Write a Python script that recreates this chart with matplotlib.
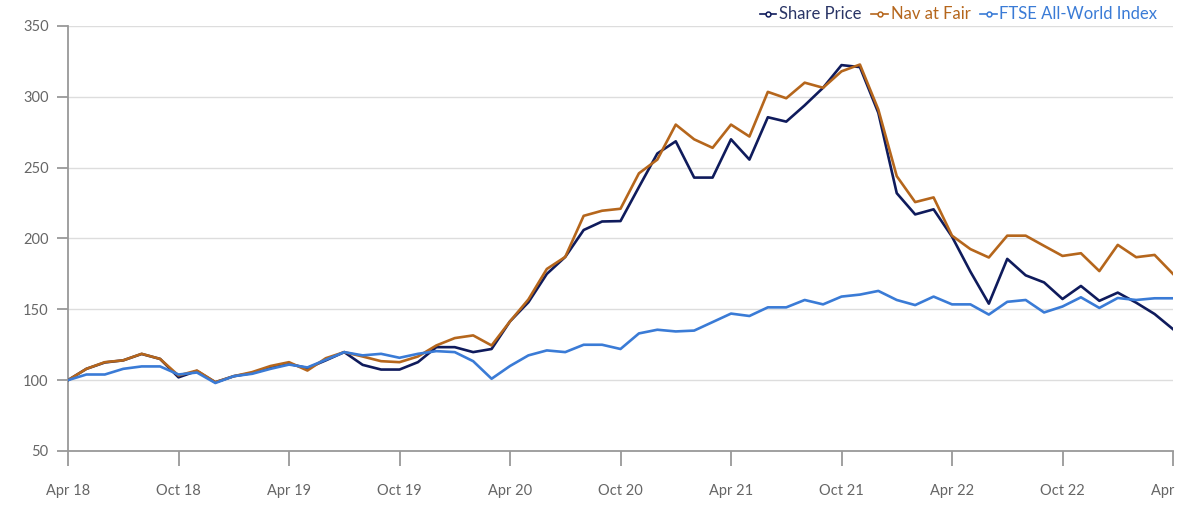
import matplotlib.pyplot as plt
from matplotlib.lines import Line2D
from matplotlib.transforms import Bbox, TransformedBbox
import numpy as np

# monthly observations, Apr 18 .. Apr 23 (rebased to 100)
share_price = [100, 108, 112.5, 114, 118.5, 115, 102, 106.5, 98.5, 102.8,
               105, 108.7, 111.5, 108.5, 114, 119.8, 110.8, 107.5, 107.5, 112.7,
               123.3, 123.3, 119.8, 122, 141.5, 155, 175, 187, 206, 212,
               212.3, 236.3, 260, 268.6, 243, 243, 270, 255.7, 285.6, 282.5,
               294, 306.4, 322.4, 321, 288.7, 232, 217, 220.6, 201.3, 176.6,
               154, 185.6, 174, 169, 157.3, 166.5, 156, 161.8, 154.7, 146.7,
               136]
nav_fair = [100, 108, 112.7, 114, 118.6, 115, 103.3, 106.8, 98.6, 102.8,
            105.7, 110, 112.7, 106.8, 115.5, 119.8, 116.7, 113.4, 112.7, 116.7,
            124.5, 129.7, 131.6, 124.5, 141.5, 157, 178.5, 187, 216, 219.6,
            221, 246, 255.7, 280.4, 270, 264, 280.4, 272, 303.5, 299,
            310, 306.4, 318, 322.8, 291, 244, 225.7, 229, 202, 192.5,
            186.6, 202, 202, 194.8, 187.7, 189.6, 177, 195.5, 186.8, 188.4,
            175]
ftse_aw = [100, 104, 104, 108, 109.7, 109.7, 104, 105.4, 98, 102.8,
           104.5, 108, 111, 109, 114.4, 119.8, 117.5, 118.6, 115.8, 118.6,
           120.5, 119.8, 113.4, 101, 110, 117.5, 121, 119.8, 125, 125,
           122, 133, 135.6, 134.4, 135, 141, 147, 145.3, 151.4, 151.4,
           156.6, 153.5, 159, 160.4, 163, 156.6, 153, 159, 153.5, 153.5,
           146.3, 155.3, 156.6, 147.8, 152, 158.5, 151, 158, 156.6, 157.8,
           157.8]
tick_labels = ["Apr 18", "Oct 18", "Apr 19", "Oct 19", "Apr 20", "Oct 20",
               "Apr 21", "Oct 21", "Apr 22", "Oct 22", "Apr 23"]

navy = "#0f1b5c"
orange = "#b5661c"
blue = "#3a7bd6"
grey = "#666666"

plt.rcParams['font.family'] = ['Lato', 'DejaVu Sans']

fig = plt.figure(figsize=(12, 5.09), dpi=100)
ax = fig.add_axes([68 / 1200, 1 - 451 / 509, (1173 - 68) / 1200, (451 - 26) / 509])

months = np.arange(len(share_price))
ax.plot(months, share_price, color=navy, lw=1.9, zorder=3)
ax.plot(months, nav_fair, color=orange, lw=1.9, zorder=3)
ax.plot(months, ftse_aw, color=blue, lw=1.9, zorder=3)

ax.set_xlim(0, len(share_price) - 1)
ax.set_ylim(50, 350)
ax.set_yticks(range(50, 351, 50))
ax.set_xticks(range(0, len(share_price), 6))
ax.set_xticklabels(tick_labels)
ax.grid(axis='y', color='#dddddd', lw=1)
ax.set_axisbelow(True)

for s in ['top', 'right']:
    ax.spines[s].set_visible(False)
for s in ['left', 'bottom']:
    ax.spines[s].set_color('#999999')
    ax.spines[s].set_linewidth(1.3)

ax.tick_params(axis='x', length=11, width=1.3, color='#999999', pad=13,
               labelsize=10.5, labelcolor=grey)
ax.tick_params(axis='y', length=8, width=1.3, color='#999999', pad=6,
               labelsize=10.5, labelcolor=grey)

# the last date label is cut off by the chart's right edge in the original
last = ax.get_xticklabels()[-1]
last.set_clip_on(True)
last.set_clip_box(TransformedBbox(Bbox([[0, 0], [1177 / 1200, 1]]), fig.transFigure))

handles = [Line2D([], [], color=c, lw=1.2, marker='o', ms=3.5,
                  markerfacecolor='white', markeredgewidth=1.1)
           for c in (navy, orange, blue)]
leg = ax.legend(handles, ["Share Price", "Nav at Fair", "FTSE All-World Index"],
                loc='lower right', bbox_to_anchor=(0.995, 0.985), ncol=3,
                frameon=False, handlelength=1.0, handletextpad=0.15,
                columnspacing=0.6, fontsize=12, borderpad=0.1)
for txt, c in zip(leg.get_texts(), ("#2a3566", orange, blue)):
    txt.set_color(c)

fig.savefig("out.png", dpi=100)
